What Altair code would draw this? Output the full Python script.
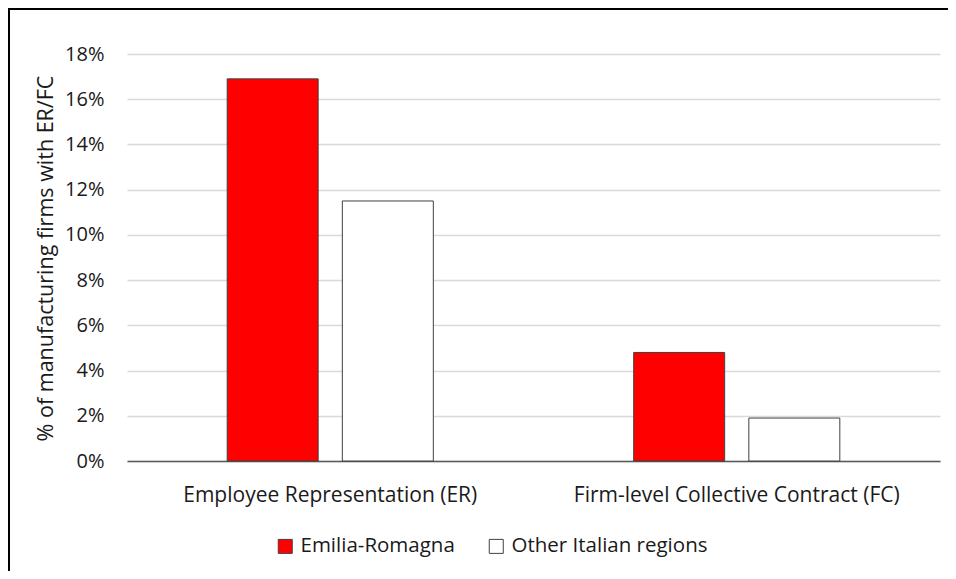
import altair as alt
import pandas as pd

categories = ["Employee Representation (ER)", "Firm-level Collective Contract (FC)"]
series = ["Emilia-Romagna", "Other Italian regions"]
emilia_romagna = [0.169, 0.048]
other_regions = [0.115, 0.019]
y_ticks = [0, 0.02, 0.04, 0.06, 0.08, 0.10, 0.12, 0.14, 0.16, 0.18]
colors = ["#FF0000", "#FFFFFF"]

rows = []
for i, c in enumerate(categories):
    rows.append({"category": c, "series": series[0], "value": emilia_romagna[i]})
    rows.append({"category": c, "series": series[1], "value": other_regions[i]})
df = pd.DataFrame(rows)

FONT = "Open Sans"
TXT = "#1a1a1a"

bars = alt.Chart(df).mark_bar(stroke="#404040", strokeWidth=1, opacity=1).encode(
    x=alt.X(
        "category:N",
        sort=categories,
        scale=alt.Scale(paddingInner=0, paddingOuter=0),
        axis=alt.Axis(
            title=None, labelAngle=0, ticks=False, grid=False,
            domainColor="#595959", domainWidth=1.5,
            labelFontSize=21, labelFont=FONT, labelColor=TXT, labelPadding=23,
            labelLimit=0,
        ),
    ),
    xOffset=alt.XOffset("series:N", sort=series,
                        scale=alt.Scale(paddingInner=0.21, paddingOuter=0.87)),
    y=alt.Y(
        "value:Q",
        scale=alt.Scale(domain=[0, 0.18], nice=False),
        axis=alt.Axis(
            values=y_ticks, format=".0%", domain=False, ticks=False,
            gridColor="#D9D9D9", gridWidth=1.5,
            labelFontSize=20, labelFont=FONT, labelColor=TXT, labelPadding=23,
            title="% of manufacturing firms with ER/FC",
            titleFontSize=21.5, titleFont=FONT, titleColor=TXT, titleFontWeight="normal",
            titleX=-75, titleY=204, titleAngle=270, titleBaseline="alphabetic",
            titleAlign="center",
        ),
    ),
    color=alt.Color(
        "series:N",
        sort=series,
        scale=alt.Scale(domain=series, range=colors),
        legend=alt.Legend(
            title=None, orient="none", legendX=148, legendY=482,
            direction="horizontal", symbolType="square", symbolSize=196,
            symbolStrokeColor="#404040", symbolStrokeWidth=1, symbolOpacity=1,
            labelFontSize=20.5, labelFont=FONT, labelColor=TXT, labelOffset=5,
            columnPadding=31, padding=0, labelLimit=0,
        ),
    ),
)

border_df = pd.DataFrame({"k": [0]})
frame = alt.Chart(border_df).mark_rect(
    fill="transparent", stroke="black", strokeWidth=2
).encode(
    x=alt.value(-118), x2=alt.value(860), y=alt.value(-45), y2=alt.value(600)
)

chart = alt.layer(bars, frame).properties(
    width=813,
    height=407,
    autosize=alt.AutoSizeParams(type="none"),
    padding={"left": 119, "top": 46, "right": 8, "bottom": 110},
).configure_view(stroke=None)

chart.save("out.html", embed_options={"renderer": "svg", "actions": False})
